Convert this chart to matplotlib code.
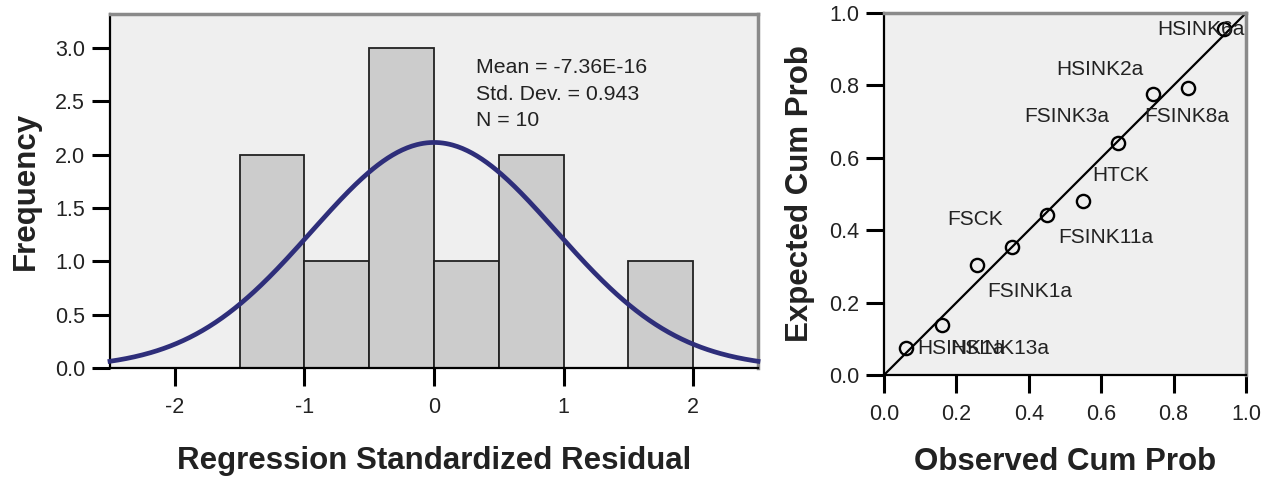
import matplotlib.pyplot as plt
import numpy as np

plt.rcParams['font.family'] = ['Liberation Sans', 'DejaVu Sans']

# histogram of residuals
bin_left = [-1.5, -1.0, -0.5, 0.0, 0.5, 1.0, 1.5]
bin_width = 0.5
counts = [2, 1, 3, 1, 2, 0, 1]
res_mean = -7.36e-16
res_sd = 0.943
res_n = 10

# P-P plot
observed = [0.061, 0.159, 0.256, 0.354, 0.451, 0.549, 0.646, 0.744, 0.841, 0.939]
expected = [0.075, 0.138, 0.304, 0.354, 0.441, 0.481, 0.642, 0.775, 0.792, 0.955]
# label text and where it sits (data coords)
pp_labels = ["HSINK1a", "HSINK13a", "FSCK", "FSINK1a", "FSINK11a", "HTCK",
             "FSINK3a", "HSINK2a", "FSINK8a", "HSINK6a"]
pp_label_xy = [(0.091, 0.072), (0.183, 0.072), (0.174, 0.430), (0.284, 0.230),
               (0.481, 0.379), (0.575, 0.551), (0.387, 0.715), (0.475, 0.844),
               (0.719, 0.715), (0.755, 0.955)]

W, H = 1271, 479
fig = plt.figure(figsize=(W / 100, H / 100), dpi=100)

bg = '#efefef'
tick_kw = dict(labelsize=15.5, length=13, width=2.2, colors='black', labelcolor='#222222')


def frame(ax):
    ax.set_facecolor(bg)
    for s in ['top', 'right']:
        ax.spines[s].set_color('#8a8a8a')
        ax.spines[s].set_linewidth(2.5)
    for s in ['left', 'bottom']:
        ax.spines[s].set_color('black')
        ax.spines[s].set_linewidth(1.6)
    ax.tick_params(axis='both', **tick_kw)
    ax.tick_params(axis='x', pad=8)
    ax.tick_params(axis='y', pad=5)
    ax.tick_params(top=False, right=False)


lab_kw = dict(fontsize=22.5, fontweight='bold', color='#222222')

# left: histogram
ax1 = fig.add_axes([110 / W, 1 - 368 / H, (758 - 110) / W, (368 - 14) / H])
frame(ax1)
ax1.bar(bin_left, counts, width=bin_width, align='edge', color='#cccccc',
        edgecolor='#222222', linewidth=1.3, zorder=2)
xs = np.linspace(-2.5, 2.5, 400)
curve = res_n * bin_width * np.exp(-0.5 * ((xs - res_mean) / res_sd) ** 2) / (res_sd * np.sqrt(2 * np.pi))
ax1.plot(xs, curve, color='#2e2e7a', linewidth=3.4, zorder=3, clip_on=False)
ax1.set_xlim(-2.5, 2.5)
ax1.set_ylim(0, 3.32)
ax1.set_xticks([-2, -1, 0, 1, 2])
ax1.set_xticklabels(['-2', '-1', '0', '1', '2'])
ax1.set_yticks([0, 0.5, 1.0, 1.5, 2.0, 2.5, 3.0])
ax1.set_yticklabels(['0.0', '0.5', '1.0', '1.5', '2.0', '2.5', '3.0'])
ax1.set_xlabel('Regression Standardized Residual', labelpad=20, **lab_kw)
ax1.set_ylabel('Frequency', labelpad=10, **lab_kw)
ax1.text(0.565, 0.875, 'Mean = -7.36E-16\nStd. Dev. = 0.943\nN = 10', transform=ax1.transAxes,
         fontsize=15.3, color='#222222', va='top', ha='left', linespacing=1.5)

# right: P-P plot
ax2 = fig.add_axes([884 / W, 1 - 375 / H, (1246 - 884) / W, (375 - 13) / H])
frame(ax2)
ax2.plot([0, 1], [0, 1], color='black', linewidth=1.6, zorder=2, clip_on=False)
ax2.plot(observed, expected, 'o', markerfacecolor='none', markeredgecolor='black',
         markersize=9.5, markeredgewidth=1.7, zorder=3)
for txt, (tx, ty) in zip(pp_labels, pp_label_xy):
    ax2.text(tx, ty, txt, fontsize=15, color='#222222', va='center', ha='left', zorder=4)
ax2.set_xlim(0, 1)
ax2.set_ylim(0, 1)
tks = [0, 0.2, 0.4, 0.6, 0.8, 1.0]
tkl = ['0.0', '0.2', '0.4', '0.6', '0.8', '1.0']
ax2.set_xticks(tks)
ax2.set_xticklabels(tkl)
ax2.set_yticks(tks)
ax2.set_yticklabels(tkl)
ax2.set_xlabel('Observed Cum Prob', labelpad=16, **lab_kw)
ax2.set_ylabel('Expected Cum Prob', labelpad=10, **lab_kw)

fig.savefig('out.png', dpi=100, facecolor='white')
